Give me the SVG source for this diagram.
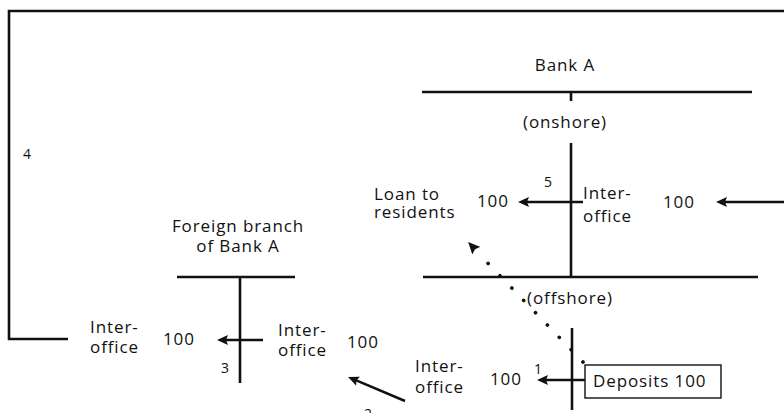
<svg xmlns="http://www.w3.org/2000/svg" width="784" height="413" viewBox="0 0 784 413">
<style>
text{font-family:"Open Sans","Noto Sans","DejaVu Sans",sans-serif;fill:#111;}
.t{font-size:17px;letter-spacing:0.9px;}
.n{font-size:14px;}
.ln{stroke:#111;stroke-width:2.6;fill:none;stroke-linecap:butt;}
.ar{stroke:#111;stroke-width:2.5;fill:none;marker-end:url(#ah);}
.dot{stroke:#111;stroke-width:3.6;fill:none;stroke-linecap:round;stroke-dasharray:0.1 17;}
</style>
<defs>
<marker id="ah" markerUnits="userSpaceOnUse" viewBox="0 0 11 10" refX="4" refY="5" markerWidth="11" markerHeight="10" orient="auto">
<path d="M0,0 L11,5 L0,10 L2,5 z" fill="#111"/>
</marker>
<marker id="ahd" markerUnits="userSpaceOnUse" viewBox="0 0 12 11" refX="4" refY="5.5" markerWidth="12" markerHeight="11" orient="auto">
<path d="M0,0 L12,5.5 L0,11 L2,5.5 z" fill="#111"/>
</marker>
</defs>
<rect width="784" height="413" fill="#fff"/>

<g id="frame">
<path class="ln" d="M784,11 L9,11 L9,339 L68,339" stroke-width="3"/>
<text class="n" x="23" y="159">4</text>
</g>

<g id="bankA-onshore">
<text class="t" x="565" y="71" text-anchor="middle">Bank A</text>
<line class="ln" x1="422" y1="92" x2="752" y2="92"/>
<line class="ln" x1="571" y1="92" x2="571" y2="101"/>
<text class="t" x="565" y="128" text-anchor="middle">(onshore)</text>
<line class="ln" x1="571" y1="143" x2="571" y2="277" stroke-width="3"/>
<text class="t" x="374" y="200">Loan to</text>
<text class="t" x="374" y="218">residents</text>
<text class="t" x="477" y="207">100</text>
<text class="n" x="544" y="187">5</text>
<text class="t" x="583" y="199">Inter-</text>
<text class="t" x="583" y="222">office</text>
<text class="t" x="663" y="208">100</text>
</g>

<g id="bankA-offshore">
<line class="ln" x1="423" y1="277" x2="758" y2="277"/>
<text class="t" x="527" y="304">(offshore)</text>
<line class="ln" x1="572" y1="328" x2="572" y2="410" stroke-width="3"/>
<text class="t" x="415" y="372">Inter-</text>
<text class="t" x="415" y="393">office</text>
<text class="t" x="490" y="385">100</text>
<text class="n" x="534" y="374">1</text>
<rect x="585" y="365" width="136" height="33" fill="#fff" stroke="#111" stroke-width="1.4"/>
<text class="t" x="593" y="387">Deposits 100</text>
</g>

<g id="foreign-branch">
<text class="t" x="238" y="232" text-anchor="middle">Foreign branch</text>
<text class="t" x="238" y="252" text-anchor="middle">of Bank A</text>
<line class="ln" x1="177" y1="277" x2="295" y2="277"/>
<line class="ln" x1="240" y1="277" x2="240" y2="383" stroke-width="3"/>
<text class="t" x="90" y="333">Inter-</text>
<text class="t" x="90" y="353">office</text>
<text class="t" x="163" y="345">100</text>
<text class="n" x="221" y="373">3</text>
<text class="t" x="278" y="336">Inter-</text>
<text class="t" x="278" y="356">office</text>
<text class="t" x="347" y="348">100</text>
</g>

<g id="connectors">
<line class="ar" x1="784" y1="202" x2="723" y2="202"/>
<line class="ar" x1="583" y1="202" x2="525" y2="202"/>
<line class="ar" x1="263" y1="340" x2="224" y2="340"/>
<line class="ar" x1="585" y1="380" x2="544" y2="380"/>
<line class="ar" x1="405" y1="401" x2="354.5" y2="379.7"/>
<line class="dot" x1="583" y1="362" x2="480" y2="255"/>
<line x1="475" y1="249.3" x2="473.6" y2="247.8" stroke="#111" stroke-width="1" marker-end="url(#ahd)"/>
<text class="n" x="364" y="419">2</text>
</g>
</svg>
